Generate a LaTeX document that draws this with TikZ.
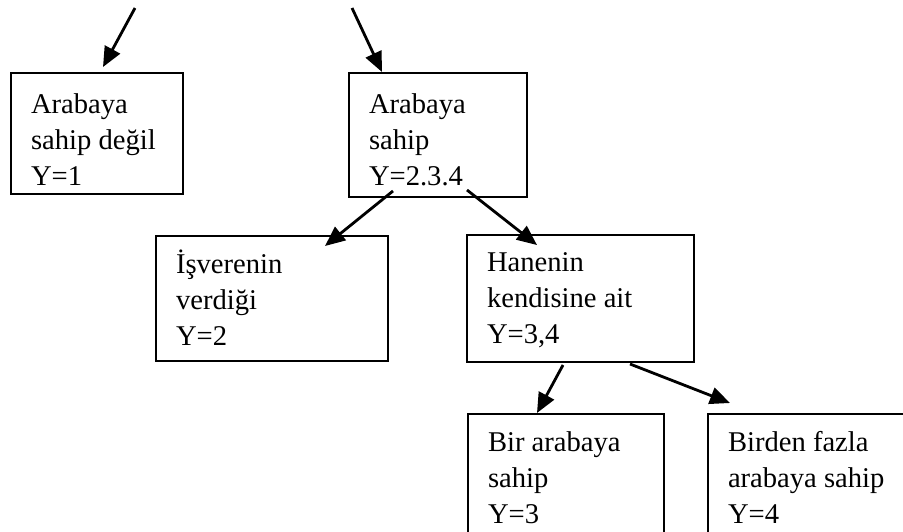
\documentclass[tikz,border=0pt]{standalone}
\usepackage{fontspec}
\setmainfont{Liberation Serif}
\usetikzlibrary{arrows.meta}

\tikzset{
  kutu/.style={draw, line width=1pt, anchor=north west, align=flush left,
    inner xsep=10pt, inner ysep=0pt, font=\fontsize{14.3}{18}\selectfont},
  ok/.style={line width=1.4pt, -{Triangle[length=10pt,width=8.5pt]}}
}

\begin{document}
\begin{tikzpicture}[x=0.5pt,y=-0.5pt]
  \useasboundingbox (0,0) rectangle (903,531);
  \clip (0,0) rectangle (903,531);

  % first level
  \node[kutu, text width=66pt, text height=20pt, text depth=40.5pt] (yok) at (10,72)
    {Arabaya\\sahip değil\\Y=1};
  \node[kutu, text width=69pt, text height=20pt, text depth=42pt] (var) at (348,72)
    {Arabaya\\sahip\\Y=2.3.4};

  % second level
  \node[kutu, text width=96pt, text height=18.5pt, text depth=44pt] (isveren) at (155,235)
    {İşverenin\\verdiği\\Y=2};
  \node[kutu, text width=93.5pt, text height=18pt, text depth=45.5pt] (hane) at (466,234)
    {Hanenin\\kendisine ait\\Y=3,4};

  % third level (cut at the bottom)
  \node[kutu, text width=78pt, text height=18.5pt, text depth=60pt] (bir) at (467,413)
    {Bir arabaya\\sahip\\Y=3};
  \node[kutu, text width=90pt, text height=18.5pt, text depth=60pt] (fazla) at (707,413)
    {Birden fazla\\arabaya sahip\\Y=4};

  % arrows coming from above
  \coordinate (ust1) at (135,8);
  \coordinate (ust2) at (352,8);
  \draw[ok] (ust1) -- ([shift={(93,-5)}]yok.north west);
  \draw[ok] (ust2) -- ([shift={(34,0)}]var.north west);

  \draw[ok] ([shift={(45,-7)}]var.south west) -- ([shift={(170,11)}]isveren.north west);
  \draw[ok] ([shift={(119,-8)}]var.south west) -- ([shift={(71,11)}]hane.north west);

  \draw[ok] ([shift={(97,2)}]hane.south west) -- ([shift={(70,0)}]bir.north west);
  \draw[ok] ([shift={(164,1)}]hane.south west) -- ([shift={(23,-10)}]fazla.north west);
\end{tikzpicture}
\end{document}
